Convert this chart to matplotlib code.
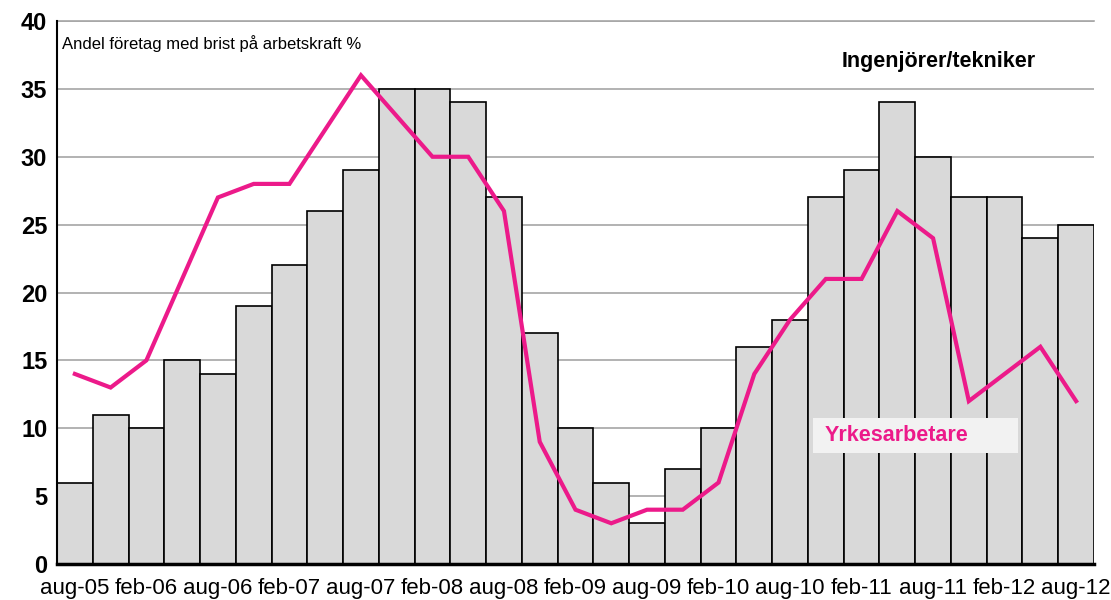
import matplotlib.pyplot as plt
from matplotlib.patches import Rectangle

# kvartalsdata aug-05 .. aug-12
ingenjorer = [6, 11, 10, 15, 14, 19, 22, 26, 29, 35, 35, 34, 27, 17, 10,
              6, 3, 7, 10, 16, 18, 27, 29, 34, 30, 27, 27, 24, 25]
yrkesarbetare = [14, 13, 15, 21, 27, 28, 28, 32, 36, 33, 30, 30, 26, 9, 4,
                 3, 4, 4, 6, 14, 18, 21, 21, 26, 24, 12, 14, 16, 12]
tick_labels = ['aug-05', 'feb-06', 'aug-06', 'feb-07', 'aug-07', 'feb-08',
               'aug-08', 'feb-09', 'aug-09', 'feb-10', 'aug-10', 'feb-11',
               'aug-11', 'feb-12', 'aug-12']

plt.rcParams['font.family'] = ['Liberation Sans', 'DejaVu Sans']

fig = plt.figure(figsize=(11.11, 6), dpi=100)
ax = fig.add_axes([0.0513, 0.06, 0.9334, 0.905])

x = list(range(len(ingenjorer)))
ax.bar(x, ingenjorer, width=1.0, color='#d9d9d9', edgecolor='black',
       linewidth=1.2, zorder=2)
ax.plot(x, yrkesarbetare, color='#ec1a8a', linewidth=3, zorder=3,
        solid_joinstyle='miter')

ax.set_xlim(-0.5, len(x) - 0.5)
ax.set_ylim(0, 40)
ax.set_yticks(range(0, 41, 5))
ax.set_yticklabels([str(v) for v in range(0, 41, 5)], fontsize=17,
                   fontweight='bold')
ax.set_xticks(x[::2])
ax.set_xticklabels(tick_labels, fontsize=16)
ax.tick_params(axis='x', length=0, pad=10)
ax.tick_params(axis='y', length=0, pad=7)

ax.yaxis.grid(True, color='#a6a6a6', linewidth=1.2, zorder=0)
ax.set_axisbelow(True)
for s in ['top', 'right']:
    ax.spines[s].set_visible(False)
ax.spines['left'].set_linewidth(1.5)
ax.spines['bottom'].set_linewidth(2.5)
ax.axhline(40, color='#a6a6a6', linewidth=1.2, zorder=0, clip_on=False)

ax.text(0.005, 0.975, 'Andel företag med brist på arbetskraft %',
        transform=ax.transAxes, fontsize=12, va='top', ha='left')
ax.text(0.85, 0.925, 'Ingenjörer/tekniker', transform=ax.transAxes,
        fontsize=15.5, fontweight='bold', ha='center', va='center')
ax.add_patch(Rectangle((20.64, 8.18), 5.73, 2.57, facecolor='#f2f2f2',
                       edgecolor='none', zorder=4))
ax.text(20.98, 9.5, 'Yrkesarbetare', fontsize=15.5, fontweight='bold',
        color='#ec1a8a', va='center', ha='left', zorder=5)

fig.savefig('out.png', dpi=100)
